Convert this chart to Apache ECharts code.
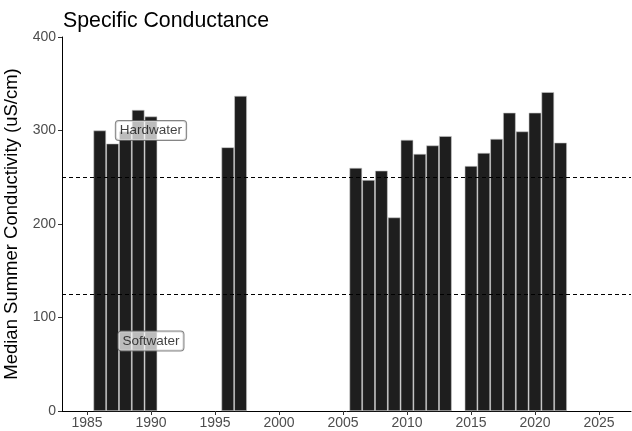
<!DOCTYPE html>
<html>
<head>
<meta charset="utf-8">
<script src="https://cdn.jsdelivr.net/npm/echarts@6/dist/echarts.min.js"></script>
<style>html,body{margin:0;padding:0;background:#fff;}#c{width:632px;height:431px;}</style>
</head>
<body>
<div id="c"></div>
<script>
const years = [1986,1987,1988,1989,1990,1996,1997,2006,2007,2008,2009,2010,2011,2012,2013,2015,2016,2017,2018,2019,2020,2021,2022];
const values = [300,286,299,322,315,282,337,260,247,257,207,290,275,284,294,262,276,291,319,299,319,341,287];
const xTicks = [1985,1990,1995,2000,2005,2010,2015,2020,2025];
const yTicks = [0,100,200,300,400];
const thresholds = [250,125];
const annotations = [{name:'Hardwater', x:1990, y:300},{name:'Softwater', x:1990, y:75}];

const chart = echarts.init(document.getElementById('c'));
const font = 'Liberation Sans, Arial, sans-serif';
chart.setOption({
  animation:false,
  title:{text:'Specific Conductance', left:58, top:6, textStyle:{fontFamily:font, fontSize:21.3, fontWeight:'normal', color:'#000'}},
  grid:{left:62, right:1, top:37, bottom:20, containLabel:false, outerBoundsMode:'none'},
  xAxis:{type:'value', min:1983.05, max:2027.5,
    axisLine:{onZero:false, lineStyle:{color:'#000', width:1}},
    axisTick:{show:true, length:4, lineStyle:{color:'#333'}, customValues:xTicks},
    axisLabel:{customValues:xTicks, formatter:v=>String(v), color:'#4d4d4d', fontSize:14, fontFamily:font, margin:5},
    splitLine:{show:false}},
  yAxis:{type:'value', min:0, max:400, interval:100,
    name:'Median Summer Conductivity (uS/cm)', nameLocation:'middle', nameGap:33,
    nameTextStyle:{fontFamily:font, fontSize:18.5, color:'#000'},
    axisLine:{show:true, lineStyle:{color:'#000', width:1}},
    axisTick:{show:true, length:4, lineStyle:{color:'#333'}, customValues:yTicks},
    axisLabel:{customValues:yTicks, formatter:v=>String(v), color:'#4d4d4d', fontSize:14, fontFamily:font, margin:6},
    splitLine:{show:false}},
  series:[
    {type:'bar', data:years.map((y,i)=>[y, values[i]]), barWidth:12.6,
     itemStyle:{color:'#1e1e1e', borderColor:'#c8c8c8', borderWidth:0.6},
     markLine:{silent:true, symbol:['none','none'], label:{show:false},
       lineStyle:{color:'#000', type:[4,3], width:1},
       data:thresholds.map(v=>({yAxis:v}))}
    },
    {type:'scatter', symbolSize:0, z:10,
     data:annotations.map(a=>({name:a.name, value:[a.x, a.y]})),
     label:{show:true, position:'inside', formatter:p=>p.name, fontFamily:font, fontSize:13.5, color:'#111',
       backgroundColor:'rgba(255,255,255,0.88)', borderColor:'#666', borderWidth:1, borderRadius:3, padding:[3,4,2,4]}}
  ]
});
</script>
</body>
</html>
